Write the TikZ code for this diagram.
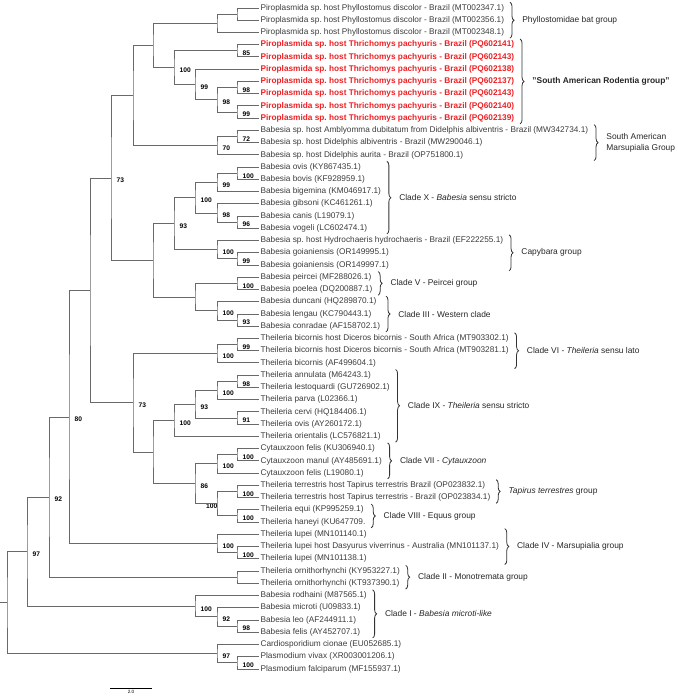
\documentclass[tikz,border=0pt]{standalone}
\usepackage{fontspec}
\setmainfont{Liberation Sans}
\frenchspacing
\usetikzlibrary{calc}
\usetikzlibrary{fit}
\usetikzlibrary{decorations.pathreplacing}
\definecolor{treegray}{RGB}{105,105,105}
\definecolor{leafgray}{RGB}{60,60,60}
\definecolor{rodentred}{RGB}{238,32,36}
\tikzset{branch/.style={treegray,line width=0.7pt},
    leaf/.style={anchor=west,inner sep=1pt,text=leafgray,font=\fontsize{6.2}{7}\selectfont},
    red leaf/.style={text=rodentred,font=\fontsize{6.2}{7}\selectfont\bfseries},
    boot/.style={anchor=west,inner sep=0.3pt,font=\fontsize{5}{5.5}\selectfont\bfseries},
    group brace/.style={decorate,decoration={brace,amplitude=3pt},line width=0.6pt,black!80},
    group label/.style={anchor=west,inner sep=0pt,text=black!85,font=\fontsize{6.3}{8.5}\selectfont}}
% clade: [bootstrap]{name}{x}{upper child}{lower child}
\newcommand{\clade}[5][]{%
    \path (#4) -- (#5) coordinate[midway] (#2 mid);
    \path let \p1=(#2 mid), \p2=(#3,0) in (\x2,\y1) coordinate (#2);
    \draw[branch] (#4) -| (#2) |- (#5);
    \if\relax\detokenize{#1}\relax\else
      \node[boot] (#2 bs) at ([shift={(5,2.5)}]#2) {#1};
    \fi}
% group brace: [label options]{first leaf}{last leaf}{label}
\newcommand{\groupbrace}[4][]{%
    \gdef\fitlist{}%
    \foreach \k in {#2,...,#3}{\xdef\fitlist{\fitlist(L\k)}}%
    \edef\fitcmd{\noexpand\node[fit=\fitlist,inner sep=0pt] (G#2) {};}\fitcmd
    \draw[group brace] ([xshift=3pt]G#2.north east) -- ([xshift=3pt]G#2.south east)
      node[group label,midway,xshift=9pt,#1] (G#2 label) {#4};}
\begin{document}
\begin{tikzpicture}[x=0.75pt,y=-0.75pt]
\useasboundingbox (0,0) rectangle (677,698);
% leaves
\foreach \txt [count=\i] in {
    Piroplasmida sp. host Phyllostomus discolor - Brazil (MT002347.1),
    Piroplasmida sp. host Phyllostomus discolor - Brazil (MT002356.1),
    Piroplasmida sp. host Phyllostomus discolor - Brazil (MT002348.1)}
  \node[leaf] (L\i) at (259,{8+(\i-1)*12.24}) {\txt};
\foreach \acc [count=\i from 4] in {PQ602141,PQ602143,PQ602138,PQ602137,PQ602143,PQ602140,PQ602139}
  \node[leaf,red leaf] (L\i) at (259,{8+(\i-1)*12.24}) {Piroplasmida sp. host Thrichomys pachyuris - Brazil (\acc)};
\foreach \txt [count=\i from 11] in {
    Babesia sp. host Amblyomma dubitatum from Didelphis albiventris - Brazil (MW342734.1),
    Babesia sp. host Didelphis albiventris - Brazil (MW290046.1),
    Babesia sp. host Didelphis aurita - Brazil (OP751800.1),
    Babesia ovis (KY867435.1),
    Babesia bovis (KF928959.1),
    Babesia bigemina (KM046917.1),
    Babesia gibsoni (KC461261.1),
    Babesia canis (L19079.1),
    Babesia vogeli (LC602474.1),
    Babesia sp. host Hydrochaeris hydrochaeris - Brazil (EF222255.1),
    Babesia goianiensis (OR149995.1),
    Babesia goianiensis (OR149997.1),
    Babesia peircei (MF288026.1),
    Babesia poelea (DQ200887.1),
    Babesia duncani (HQ289870.1),
    Babesia lengau (KC790443.1),
    Babesia conradae (AF158702.1),
    Theileria bicornis host Diceros bicornis - South Africa (MT903302.1),
    Theileria bicornis host Diceros bicornis - South Africa (MT903281.1),
    Theileria bicornis (AF499604.1),
    Theileria annulata (M64243.1),
    Theileria lestoquardi (GU726902.1),
    Theileria parva (L02366.1),
    Theileria cervi (HQ184406.1),
    Theileria ovis (AY260172.1),
    Theileria orientalis (LC576821.1),
    Cytauxzoon felis (KU306940.1),
    Cytauxzoon manul (AY485691.1),
    Cytauxzoon felis (L19080.1),
    Theileria terrestris host Tapirus terrestris Brazil (OP023832.1),
    Theileria terrestris host Tapirus terrestris - Brazil (OP023834.1),
    Theileria equi (KP995259.1),
    Theileria haneyi (KU647709.,
    Theileria lupei (MN101140.1),
    Theileria lupei host Dasyurus viverrinus - Australia (MN101137.1),
    Theileria lupei (MN101138.1),
    Theileria ornithorhynchi (KY953227.1),
    Theileria ornithorhynchi (KT937390.1),
    Babesia rodhaini (M87565.1),
    Babesia microti (U09833.1),
    Babesia leo (AF244911.1),
    Babesia felis (AY452707.1),
    Cardiosporidium cionae (EU052685.1),
    Plasmodium vivax (XR003001206.1),
    Plasmodium falciparum (MF155937.1)}
  \node[leaf] (L\i) at (259,{8+(\i-1)*12.24}) {\txt};
% tree
\clade{Ph1}{237}{L1.west}{L2.west}
\clade{Ph}{217}{Ph1}{L3.west}
\clade[85]{R1}{237}{L4.west}{L5.west}
\clade[98]{R4}{237}{L7.west}{L8.west}
\clade[99]{R5}{237}{L9.west}{L10.west}
\clade[98]{R3}{217}{R4}{R5}
\clade[99]{R2}{195}{L6.west}{R3}
\clade[100]{R}{174}{R1}{R2}
\clade{H}{153}{Ph}{R}
\clade[72]{Ma1}{237}{L11.west}{L12.west}
\clade[70]{Ma}{217}{Ma1}{L13.west}
\clade{F}{133}{H}{Ma}
\clade[100]{X11}{237}{L14.west}{L15.west}
\clade[99]{X1}{217}{X11}{L16.west}
\clade[96]{X21}{237}{L18.west}{L19.west}
\clade[98]{X2}{217}{L17.west}{X21}
\clade[100]{X}{195}{X1}{X2}
\clade[99]{Cap1}{237}{L21.west}{L22.west}
\clade[100]{Cap}{217}{L20.west}{Cap1}
\clade[93]{I}{174}{X}{Cap}
\clade[100]{Pe}{237}{L23.west}{L24.west}
\clade[93]{W1}{237}{L26.west}{L27.west}
\clade[100]{W}{217}{L25.west}{W1}
\clade{J}{195}{Pe}{W}
\clade{G}{153}{I}{J}
\clade[73]{E}{111}{F}{G}
\clade[99]{Tb1}{237}{L28.west}{L29.west}
\clade[100]{Tb}{217}{Tb1}{L30.west}
\clade[98]{Ts21}{237}{L31.west}{L32.west}
\clade[100]{Ts2}{217}{Ts21}{L33.west}
\clade[91]{Ts3}{237}{L34.west}{L35.west}
\clade[93]{Ts1}{195}{Ts2}{Ts3}
\clade[100]{Ts}{174}{Ts1}{L36.west}
\clade[100]{Cy11}{237}{L37.west}{L38.west}
\clade[100]{Cy1}{217}{Cy11}{L39.west}
\clade[100]{Te1}{237}{L40.west}{L41.west}
\clade[100]{Te2}{237}{L42.west}{L43.west}
\clade{Te}{217}{Te1}{Te2}
\node[boot,anchor=east] (Te bs) at ([shift={(1,2)}]Te) {100};
\clade[86]{Cy}{195}{Cy1}{Te}
\clade{K}{153}{Ts}{Cy}
\clade[73]{T}{133}{Tb}{K}
\clade{D}{90}{E}{T}
\clade[100]{Lu1}{237}{L45.west}{L46.west}
\clade[100]{Lu}{217}{L44.west}{Lu1}
\clade[80]{C}{69}{D}{Lu}
\clade{O}{237}{L47.west}{L48.west}
\clade[92]{B}{49}{C}{O}
\clade[98]{M2}{237}{L51.west}{L52.west}
\clade[92]{M1}{217}{L50.west}{M2}
\clade[100]{M}{195}{L49.west}{M1}
\clade[97]{A}{27}{B}{M}
\clade[100]{P1}{237}{L54.west}{L55.west}
\clade[97]{P}{217}{L53.west}{P1}
\clade{root}{7}{A}{P}
\path let \p1=(root) in (0,\y1) coordinate (root stub);
\draw[branch] (root stub) -- (root);
% groups
\groupbrace{1}{3}{Phyllostomidae bat group}
\groupbrace[font=\fontsize{6.3}{8.5}\selectfont\bfseries]{4}{10}{"South American Rodentia group"}
\groupbrace[align=left]{11}{13}{South American\\Marsupialia Group}
\groupbrace{14}{19}{Clade X - \textit{Babesia} sensu stricto}
\groupbrace{20}{22}{Capybara group}
\groupbrace{23}{24}{Clade V - Peircei group}
\groupbrace{25}{27}{Clade III - Western clade}
\groupbrace{28}{30}{Clade VI - \textit{Theileria} sensu lato}
\groupbrace{31}{36}{Clade IX - \textit{Theileria} sensu stricto}
\groupbrace{37}{39}{Clade VII - \textit{Cytauxzoon}}
\groupbrace{40}{41}{\textit{Tapirus terrestres} group}
\groupbrace{42}{43}{Clade VIII - Equus group}
\groupbrace{44}{46}{Clade IV - Marsupialia group}
\groupbrace{47}{48}{Clade II - Monotremata group}
\groupbrace{49}{52}{Clade I - \textit{Babesia microti-like}}
% scale bar
\coordinate (bar left) at (110,688);
\coordinate (bar right) at (152,688);
\draw[line width=0.6pt] (bar left) -- (bar right)
  node[midway,below=1.5pt,inner sep=0pt,font=\fontsize{3.5}{4}\selectfont] (bar label) {2.0};
\end{tikzpicture}
\end{document}
